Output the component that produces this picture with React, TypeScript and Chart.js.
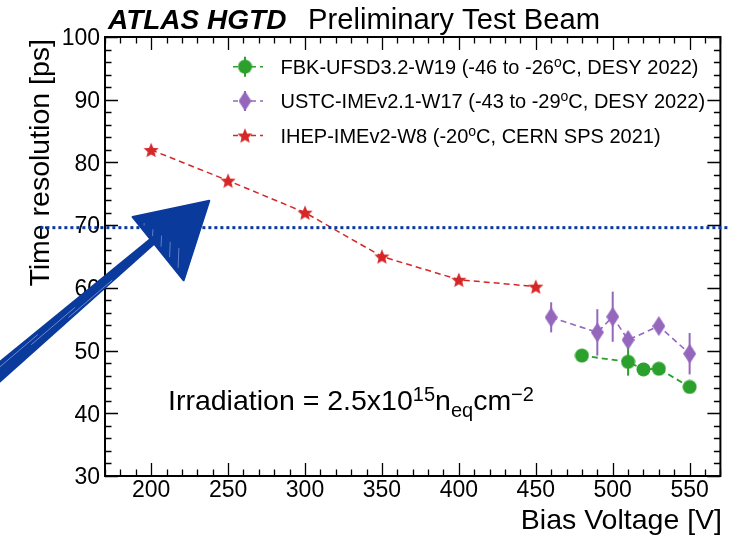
import React, { useEffect, useRef } from 'react';
import { Chart, registerables } from 'chart.js';

Chart.register(...registerables);

// ---------- data ----------
const xTickValues = [200, 250, 300, 350, 400, 450, 500, 550];
const yTickValues = [30, 40, 50, 60, 70, 80, 90, 100];

const fbkVoltage = [480, 510, 520, 530, 550];
const fbkResolution = [49.2, 48.2, 47.0, 47.1, 44.2];
const fbkError = [0.8, 2.2, 0.8, 0.8, 0.8];

const ustcVoltage = [460, 490, 500, 510, 530, 550];
const ustcResolution = [55.3, 52.9, 55.4, 51.7, 53.9, 49.5];
const ustcError = [2.4, 3.7, 4.0, 1.2, 1.0, 3.3];

const ihepVoltage = [200, 250, 300, 350, 400, 450];
const ihepResolution = [82.0, 77.1, 72.0, 65.0, 61.3, 60.2];
const ihepError = [0.4, 0.4, 0.4, 0.4, 0.4, 0.4];

const legendFbk = ['FBK-UFSD3.2-W19 (-46 to -26', 'o', 'C, DESY 2022)'];
const legendUstc = ['USTC-IMEv2.1-W17 (-43 to -29', 'o', 'C, DESY 2022)'];
const legendIhep = ['IHEP-IMEv2-W8 (-20', 'o', 'C, CERN SPS 2021)'];

const titleBold = 'ATLAS HGTD';
const titleRest = 'Preliminary Test Beam';
const xTitle = 'Bias Voltage [V]';
const yTitle = 'Time resolution [ps]';

const referenceLevel = 69.6; // ps
const referenceFrom = 128; // V (line starts left of the frame)

// hand-drawn arrow, in (V, ps) units
const arrowShaft = [[88, 43.8], [201.6, 67.6]];
const arrowHead = [[187.9, 71.3], [237.8, 73.9], [221.1, 61.2]];

// ---------- colours ----------
const GREEN = '#2ca02c';
const PURPLE = '#9467bd';
const RED = '#d62728';
const BLUE = '#0a3a9c';

const FONT = '"Liberation Sans", Arial, Helvetica, sans-serif';
const f = (size: number, weight = 'normal', style = 'normal') => `${style} ${weight} ${size}px ${FONT}`;

function makeStar(color: string, r: number) {
  const c = document.createElement('canvas');
  const s = Math.ceil(r * 2 + 2);
  c.width = s;
  c.height = s;
  const g = c.getContext('2d')!;
  g.fillStyle = color;
  g.beginPath();
  for (let i = 0; i < 10; i++) {
    const rad = i % 2 === 0 ? r : r * 0.45;
    const a = -Math.PI / 2 + (i * Math.PI) / 5;
    const px = s / 2 + rad * Math.cos(a);
    const py = s / 2 + 0.8 + rad * Math.sin(a);
    if (i === 0) g.moveTo(px, py);
    else g.lineTo(px, py);
  }
  g.closePath();
  g.fill();
  return c;
}

function makeDiamond(color: string, w: number, h: number) {
  const c = document.createElement('canvas');
  c.width = w;
  c.height = h;
  const g = c.getContext('2d')!;
  g.fillStyle = color;
  g.beginPath();
  g.moveTo(w / 2, 0);
  g.lineTo(w, h / 2);
  g.lineTo(w / 2, h);
  g.lineTo(0, h / 2);
  g.closePath();
  g.fill();
  return c;
}

function makeCircle(color: string, r: number) {
  const c = document.createElement('canvas');
  const s = Math.ceil(r * 2 + 1);
  c.width = s;
  c.height = s;
  const g = c.getContext('2d')!;
  g.fillStyle = color;
  g.beginPath();
  g.arc(s / 2, s / 2, r, 0, Math.PI * 2);
  g.fill();
  return c;
}

type Seg = { text: string; size: number; dy: number };

function drawSegs(ctx: CanvasRenderingContext2D, segs: Seg[], x: number, y: number) {
  let cx = x;
  ctx.textAlign = 'left';
  ctx.textBaseline = 'alphabetic';
  for (const s of segs) {
    ctx.font = f(s.size);
    ctx.fillText(s.text, cx, y + s.dy);
    cx += ctx.measureText(s.text).width;
  }
}

export default function App() {
  const ref = useRef<HTMLCanvasElement | null>(null);

  useEffect(() => {
    if (!ref.current) return;
    const star = makeStar(RED, 8);
    const diamond = makeDiamond(PURPLE, 13, 20);
    const circle = makeCircle(GREEN, 7);

    const decor = {
      id: 'decor',
      beforeDatasetsDraw(chart: any) {
        const { ctx, scales } = chart;
        const x = scales.x;
        const y = scales.y;
        ctx.save();
        ctx.lineWidth = 2;
        const bars = (xs: number[], ys: number[], es: number[], color: string) => {
          ctx.strokeStyle = color;
          xs.forEach((v, i) => {
            const px = x.getPixelForValue(v);
            ctx.beginPath();
            ctx.moveTo(px, y.getPixelForValue(ys[i] - es[i]));
            ctx.lineTo(px, y.getPixelForValue(ys[i] + es[i]));
            ctx.stroke();
          });
        };
        bars(ihepVoltage, ihepResolution, ihepError, RED);
        bars(ustcVoltage, ustcResolution, ustcError, PURPLE);
        bars(fbkVoltage, fbkResolution, fbkError, GREEN);
        ctx.restore();
      },
      afterDraw(chart: any) {
        const { ctx, chartArea: a, scales } = chart;
        const x = scales.x;
        const y = scales.y;
        ctx.save();

        // frame
        ctx.strokeStyle = '#000';
        ctx.lineWidth = 2;
        ctx.strokeRect(a.left, a.top, a.right - a.left, a.bottom - a.top);

        // ticks
        ctx.lineWidth = 1.3;
        ctx.beginPath();
        for (let v = Math.ceil(x.min / 10) * 10; v <= x.max; v += 10) {
          const px = Math.round(x.getPixelForValue(v)) + 0.5;
          const len = v % 50 === 0 ? 13 : 6.5;
          ctx.moveTo(px, a.bottom);
          ctx.lineTo(px, a.bottom - len);
          ctx.moveTo(px, a.top);
          ctx.lineTo(px, a.top + len);
        }
        for (let v = Math.ceil(y.min / 2) * 2; v <= y.max; v += 2) {
          const py = Math.round(y.getPixelForValue(v)) + 0.5;
          const len = v % 10 === 0 ? 13 : 6.5;
          ctx.moveTo(a.left, py);
          ctx.lineTo(a.left + len, py);
          ctx.moveTo(a.right, py);
          ctx.lineTo(a.right - len, py);
        }
        ctx.stroke();

        // tick labels
        ctx.fillStyle = '#000';
        ctx.font = f(23);
        ctx.textAlign = 'center';
        ctx.textBaseline = 'alphabetic';
        xTickValues.forEach((v) => ctx.fillText(String(v), x.getPixelForValue(v), 497));
        ctx.textAlign = 'right';
        ctx.textBaseline = 'middle';
        yTickValues.forEach((v) => ctx.fillText(String(v), a.left - 5, y.getPixelForValue(v) + 2));

        // titles
        ctx.textBaseline = 'alphabetic';
        ctx.textAlign = 'left';
        ctx.font = f(28, 'bold', 'italic');
        ctx.fillText(titleBold, 108, 28.5);
        ctx.font = f(29.2);
        ctx.fillText(titleRest, 308, 28.5);

        ctx.textAlign = 'right';
        ctx.font = f(28.5);
        ctx.fillText(xTitle, 722, 529);

        ctx.save();
        ctx.translate(48.5, 39);
        ctx.rotate(-Math.PI / 2);
        ctx.textAlign = 'right';
        ctx.fillText(yTitle, 0, 0);
        ctx.restore();

        // legend
        const rows: [string[], string, HTMLCanvasElement, number, boolean][] = [
          [legendFbk, GREEN, circle, 66.7, true],
          [legendUstc, PURPLE, diamond, 101, true],
          [legendIhep, RED, star, 135.5, false],
        ];
        rows.forEach(([parts, color, img, cy, bar]) => {
          ctx.strokeStyle = color;
          ctx.lineWidth = 1.6;
          ctx.setLineDash([5, 4]);
          ctx.beginPath();
          ctx.moveTo(233, cy);
          ctx.lineTo(263, cy);
          ctx.stroke();
          ctx.setLineDash([]);
          if (bar) {
            ctx.lineWidth = 2;
            ctx.beginPath();
            ctx.moveTo(245, cy - 10);
            ctx.lineTo(245, cy + 10);
            ctx.stroke();
          }
          ctx.drawImage(img, 245 - img.width / 2, cy - img.height / 2);
          ctx.fillStyle = '#000';
          drawSegs(
            ctx,
            [
              { text: parts[0], size: 20, dy: 0 },
              { text: parts[1], size: 14, dy: -7 },
              { text: parts[2], size: 20, dy: 0 },
            ],
            280.5,
            cy + 7.3
          );
        });

        // irradiation label
        drawSegs(
          ctx,
          [
            { text: 'Irradiation = 2.5x10', size: 28.5, dy: 0 },
            { text: '15', size: 20, dy: -9 },
            { text: 'n', size: 28.5, dy: 0 },
            { text: 'eq', size: 20, dy: 7 },
            { text: 'cm', size: 28.5, dy: 0 },
            { text: '\u22122', size: 20, dy: -9 },
          ],
          168,
          410
        );

        // dotted reference line
        ctx.strokeStyle = BLUE;
        ctx.lineWidth = 3;
        ctx.setLineDash([3, 3]);
        const ry = y.getPixelForValue(referenceLevel);
        ctx.beginPath();
        ctx.moveTo(x.getPixelForValue(referenceFrom), ry);
        ctx.lineTo(chart.width, ry);
        ctx.stroke();
        ctx.setLineDash([]);

        // hand drawn arrow
        const P = (p: number[]) => [x.getPixelForValue(p[0]), y.getPixelForValue(p[1])];
        const s0 = P(arrowShaft[0]);
        const s1 = P(arrowShaft[1]);
        const dx = s1[0] - s0[0];
        const dyy = s1[1] - s0[1];
        const L = Math.hypot(dx, dyy);
        const nx = -dyy / L;
        const ny = dx / L;
        const w0 = 9;
        const w1 = 4;
        ctx.fillStyle = BLUE;
        ctx.beginPath();
        ctx.moveTo(s0[0] + nx * w0, s0[1] + ny * w0);
        ctx.lineTo(s1[0] + nx * w1, s1[1] + ny * w1);
        ctx.lineTo(s1[0] - nx * w1, s1[1] - ny * w1);
        ctx.lineTo(s0[0] - nx * w0, s0[1] - ny * w0);
        ctx.closePath();
        ctx.fill();
        // shaft scribble highlights
        ctx.strokeStyle = 'rgba(170,190,235,0.6)';
        ctx.lineWidth = 1;
        for (let k = 0; k < 3; k++) {
          const off = (k - 1) * 3.5;
          ctx.beginPath();
          ctx.moveTo(s0[0] + nx * off + dx * (0.1 + 0.2 * k), s0[1] + ny * off + dyy * (0.1 + 0.2 * k));
          ctx.lineTo(s0[0] + nx * off + dx * (0.35 + 0.2 * k), s0[1] + ny * off + dyy * (0.35 + 0.2 * k));
          ctx.stroke();
        }
        const h = arrowHead.map(P);
        ctx.fillStyle = BLUE;
        ctx.strokeStyle = BLUE;
        ctx.beginPath();
        ctx.moveTo(h[0][0], h[0][1]);
        ctx.lineTo(h[1][0], h[1][1]);
        ctx.lineTo(h[2][0], h[2][1]);
        ctx.closePath();
        ctx.lineJoin = 'round';
        ctx.lineWidth = 2;
        ctx.fill();
        ctx.stroke();
        // scribble highlights
        ctx.strokeStyle = 'rgba(160,185,235,0.55)';
        ctx.lineWidth = 1;
        for (let k = 1; k < 6; k++) {
          const t = k / 6;
          const ax = h[0][0] + (h[2][0] - h[0][0]) * t;
          const ay = h[0][1] + (h[2][1] - h[0][1]) * t;
          const bx = h[0][0] + (h[1][0] - h[0][0]) * (t * 0.7);
          const by = h[0][1] + (h[1][1] - h[0][1]) * (t * 0.7);
          ctx.beginPath();
          ctx.moveTo(ax + 3, ay - 2);
          ctx.lineTo(ax + (bx - ax) * 0.35 + 3, ay + (by - ay) * 0.35);
          ctx.stroke();
        }
        ctx.restore();
      },
    };

    const chart = new Chart(ref.current, {
      type: 'scatter',
      data: {
        datasets: [
          {
            label: 'IHEP',
            data: ihepVoltage.map((v, i) => ({ x: v, y: ihepResolution[i] })),
            showLine: true,
            borderColor: RED,
            borderWidth: 1.5,
            borderDash: [6, 4],
            pointStyle: star as any,
            pointRadius: 8,
          },
          {
            label: 'USTC',
            data: ustcVoltage.map((v, i) => ({ x: v, y: ustcResolution[i] })),
            showLine: true,
            borderColor: PURPLE,
            borderWidth: 1.6,
            borderDash: [6, 4],
            pointStyle: diamond as any,
            pointRadius: 8,
          },
          {
            label: 'FBK',
            data: fbkVoltage.map((v, i) => ({ x: v, y: fbkResolution[i] })),
            showLine: true,
            borderColor: GREEN,
            borderWidth: 1.8,
            borderDash: [6, 4],
            pointStyle: circle as any,
            pointRadius: 7,
          },
        ],
      },
      options: {
        animation: false,
        responsive: false,
        maintainAspectRatio: false,
        layout: { padding: { top: 37, right: 3, left: 0, bottom: 0 } },
        plugins: { legend: { display: false }, tooltip: { enabled: false }, title: { display: false } },
        scales: {
          x: {
            type: 'linear',
            min: 170,
            max: 570,
            grid: { display: false },
            border: { display: false },
            ticks: { display: false },
            afterFit: (s: any) => {
              s.height = 64;
            },
          },
          y: {
            type: 'linear',
            min: 30,
            max: 100,
            grid: { display: false },
            border: { display: false },
            ticks: { display: false },
            afterFit: (s: any) => {
              s.width = 105;
            },
          },
        },
      },
      plugins: [decor],
    });
    return () => chart.destroy();
  }, []);

  return (
    <div style={{ position: 'absolute', left: 0, top: 0, width: 730, height: 540, background: '#fff' }}>
      <canvas ref={ref} width={730} height={540} style={{ width: 730, height: 540, display: 'block' }} />
    </div>
  );
}
